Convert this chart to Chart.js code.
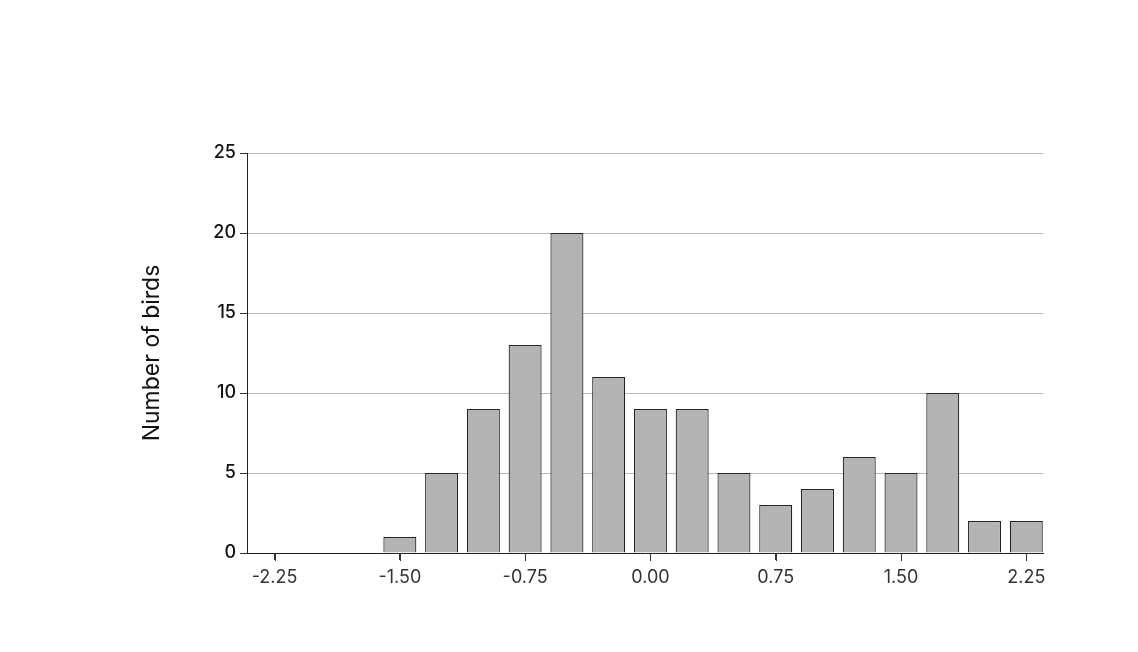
<!DOCTYPE html>
<html>
<head>
<meta charset="utf-8">
<script src="https://cdn.jsdelivr.net/npm/chart.js@4/dist/chart.umd.min.js"></script>
<style>
  html, body { margin: 0; padding: 0; background: #fff; }
  #wrap { width: 1138px; height: 652px; }
</style>
</head>
<body>
<div id="wrap"><canvas id="hist"></canvas></div>
<script>
// 直方图数据
const binCenters = [-2.25, -2.0, -1.75, -1.5, -1.25, -1.0, -0.75, -0.5, -0.25, 0.0, 0.25, 0.5, 0.75, 1.0, 1.25, 1.5, 1.75, 2.0, 2.25];
const birdCounts = [0, 0, 0, 1, 5, 9, 13, 20, 11, 9, 9, 5, 3, 4, 6, 5, 10, 2, 2];
const xTickValues = [-2.25, -1.5, -0.75, 0.0, 0.75, 1.5, 2.25];
const yTitle = 'Number of birds';

const points = binCenters.map((x, i) => ({ x: x, y: birdCounts[i] }));

// x 轴刻度短线（按比例尺位置绘制）
const xTickMarks = {
    id: 'xTickMarks',
    afterDraw(chart) {
        const scale = chart.scales.x;
        const ctx = chart.ctx;
        ctx.save();
        ctx.strokeStyle = '#333333';
        ctx.lineWidth = 1;
        scale.ticks.forEach(t => {
            const px = Math.round(scale.getPixelForValue(t.value)) + 0.5;
            ctx.beginPath();
            ctx.moveTo(px, scale.top);
            ctx.lineTo(px, scale.top + 8);
            ctx.stroke();
        });
        ctx.restore();
    }
};

new Chart(document.getElementById('hist').getContext('2d'), {
    type: 'bar',
    data: {
        datasets: [{
            data: points,
            backgroundColor: '#b3b3b3',
            borderColor: '#222222',
            borderWidth: 1.2,
            barPercentage: 0.79,
            categoryPercentage: 1.0
        }]
    },
    options: {
        responsive: true,
        maintainAspectRatio: false,
        animation: false,
        layout: {
            padding: { left: 134, right: 95, top: 153, bottom: 59 }
        },
        plugins: {
            legend: { display: false },
            tooltip: { enabled: false }
        },
        scales: {
            x: {
                type: 'linear',
                offset: false,
                min: -2.415,
                max: 2.35,
                afterBuildTicks: function(scale) {
                    scale.ticks = xTickValues.map(v => ({ value: v }));
                },
                afterFit: function(scale) {
                    scale.height = 40;
                },
                grid: {
                    offset: false,
                    drawOnChartArea: false,
                    drawTicks: true,
                    tickLength: 7,
                    tickColor: '#333333'
                },
                border: { display: true, color: '#222222', width: 1 },
                ticks: {
                    padding: 7,
                    color: '#333333',
                    font: { family: 'Inter', size: 18 },
                    callback: function(v) { return Number(v).toFixed(2); }
                }
            },
            y: {
                min: 0,
                max: 25,
                afterFit: function(scale) {
                    scale.width = 113;
                },
                grid: {
                    color: '#b8b8b8',
                    drawTicks: true,
                    tickLength: 7,
                    tickColor: '#333333'
                },
                border: { display: true, color: '#222222', width: 1 },
                ticks: {
                    stepSize: 5,
                    padding: 4,
                    color: '#111111',
                    font: { family: 'Inter', size: 18, weight: '500' }
                },
                title: {
                    display: true,
                    text: yTitle,
                    color: '#111111',
                    padding: { top: 4, bottom: 0 },
                    font: { family: 'Inter', size: 23 }
                }
            }
        }
    },
    plugins: [xTickMarks]
});
</script>
</body>
</html>
